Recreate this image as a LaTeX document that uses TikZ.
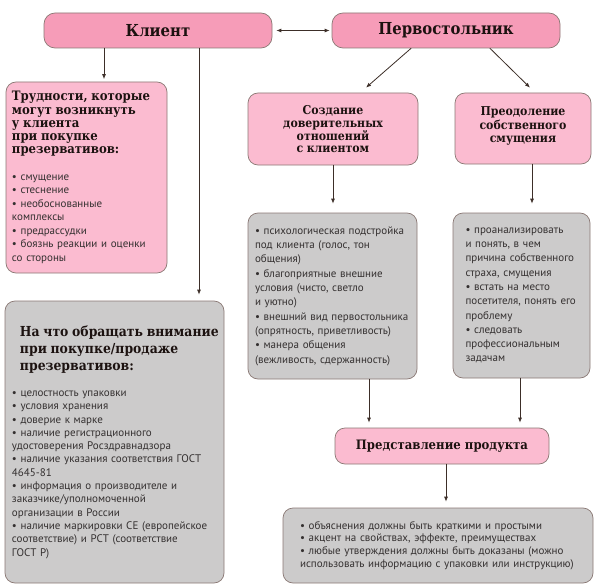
\documentclass[tikz,border=0pt]{standalone}
\usepackage{fontspec}
\setmainfont{PT Sans}
\newfontfamily\zagfont{DejaVu Serif}[FakeStretch=0.9]
\usetikzlibrary{arrows.meta}
\setlength{\parindent}{0pt}

\definecolor{shapkapink}{RGB}{246,156,184}
\definecolor{svetlopink}{RGB}{251,187,208}
\definecolor{serybox}{RGB}{204,203,203}
\definecolor{ramka}{RGB}{138,120,116}
\definecolor{strelka}{RGB}{60,46,40}
\definecolor{tekst}{RGB}{52,48,48}
\definecolor{zagcol}{RGB}{28,18,16}
\newcommand\zag{\zagfont\bfseries\fontsize{12.2}{13.3}\selectfont\color{zagcol}}

\begin{document}
\begin{tikzpicture}[x=1pt,y=-1pt,line cap=round,>={Latex[length=5pt,width=4pt]}] %% tikz
	\tikzstyle{shapka}=[draw=ramka,fill=shapkapink,line width=.7pt,rounded corners=11pt,font=\zagfont\bfseries\fontsize{16.5}{18}\selectfont,text=zagcol];
	\tikzstyle{rozov}=[draw=ramka,fill=svetlopink,line width=.7pt,rounded corners=10pt,inner sep=0pt,text=tekst];
	\tikzstyle{sery}=[draw=ramka,fill=serybox,line width=.7pt,rounded corners=10pt,inner sep=0pt,text=tekst];
	\tikzstyle{lin}=[draw=strelka,line width=.8pt];
	\useasboundingbox (0,0) rectangle (600,586);
	%% top
	\node[shapka,minimum width=228pt,minimum height=35pt] (klient) at (158,30.5) {Клиент};
	\node[shapka,minimum width=228pt,minimum height=35pt] (pervo) at (446,30.5) {Первостольник};
	%% left column
	\node[rozov,minimum width=161pt,minimum height=191pt,text width=149pt,align=left,font=\fontsize{11}{13.5}\selectfont] (trud) at (86.5,177.5) {{\zag\fontsize{13}{13.3}\selectfont Трудности, которые\\ могут возникнуть\\ у клиента\\ при покупке\\ презервативов:\par}\vspace{13pt}
		• смущение\\ • стеснение\\ • необоснованные\\ комплексы\\ • предрассудки\\ • боязнь реакции и оценки\\ со стороны};
	\node[sery,minimum width=219pt,minimum height=282pt,text width=205pt,align=left,font=\fontsize{11}{13.3}\selectfont] (nachto) at (114.5,442) {{\zag\fontsize{13.8}{17}\selectfont\hspace*{8pt}\mbox{На что обращать внимание}\\ \hspace*{8pt}при покупке/продаже\\ \hspace*{8pt}презервативов:\par}\vspace{13pt}
		• целостность упаковки\\ • условия хранения\\ • доверие к марке\\ • наличие регистрационного\\ удостоверения Росздравнадзора\\ • наличие указания соответствия ГОСТ\\ 4645-81\\ • информация о производителе и\\ заказчике/уполномоченной\\ организации в России\\ • наличие маркировки CE (европейское\\ соответствие) и РСТ (соответствие\\ ГОСТ Р)};
	%% right part
	\node[rozov,minimum width=170pt,minimum height=72pt,text width=160pt,align=center] (sozd) at (333,129) {\zag Создание\\ доверительных\\ отношений\\ с клиентом};
	\node[rozov,minimum width=136pt,minimum height=71pt,text width=126pt,align=center] (preod) at (523,128.5) {\zag Преодоление\\ собственного\\ смущения\par\vspace{5pt}};
	\node[sery,minimum width=169pt,minimum height=166pt,text width=155pt,align=left,font=\fontsize{11}{14.3}\selectfont] (psih) at (332.5,296) {• психологическая подстройка\\ под клиента (голос, тон\\ общения)\\ • благоприятные внешние\\ условия (чисто, светло\\ и уютно)\\ • внешний вид первостольника\\ (опрятность, приветливость)\\ • манера общения\\ (вежливость, сдержанность)};
	\node[sery,minimum width=137pt,minimum height=165pt,text width=112pt,align=left,font=\fontsize{11}{14.3}\selectfont] (analiz) at (521.5,295.5) {• проанализировать\\ и понять, в чем\\ причина собственного\\ страха, смущения\\ • встать на место\\ посетителя, понять его\\ проблему\\ • следовать\\ профессиональным\\ задачам};
	\node[rozov,minimum width=214pt,minimum height=36pt] (pred) at (442,446) {\zag\fontsize{13}{14}\selectfont Представление продукта};
	\node[sery,minimum width=310pt,minimum height=75pt,text width=276pt,align=left,font=\fontsize{11}{12.7}\selectfont] (itog) at (438,545.5) {• объяснения должны быть краткими и простыми\\ • акцент на свойствах, эффекте, преимуществах\\ • любые утверждения должны быть доказаны (можно\\ использовать информацию с упаковки или инструкцию)};
	%% arrows
	\draw[lin,<->,shorten <=4pt,shorten >=2pt] (klient) -- (pervo);
	\draw[lin,->,shorten >=2.5pt] ([xshift=-54pt]klient.south) -- ([xshift=17.5pt]trud.north);
	\draw[lin,->,shorten >=6pt] ([xshift=41pt]klient.south) -- ([xshift=84.5pt]nachto.north);
	\draw[lin,->] ([xshift=-35pt]pervo.south) -- ([xshift=33pt,yshift=5pt]sozd.north);
	\draw[lin,->] ([xshift=44pt]pervo.south) -- ([xshift=7pt,yshift=5pt]preod.north);
	\draw[lin,->,shorten >=9pt] (sozd.south) -- (sozd.south |- psih.north);
	\draw[lin,->,shorten >=9pt] ([xshift=9pt]preod.south) -- ([xshift=10.5pt]analiz.north);
	\draw[lin,->,shorten >=5pt] ([xshift=36.5pt]psih.south) -- ([xshift=-73pt]pred.north);
	\draw[lin,->,shorten >=5pt] ([xshift=-1.5pt]analiz.south) -- ([xshift=78pt]pred.north);
	\draw[lin,->,shorten >=6pt] ([xshift=4pt]pred.south) -- ([xshift=8pt]itog.north);
\end{tikzpicture}
\end{document}
